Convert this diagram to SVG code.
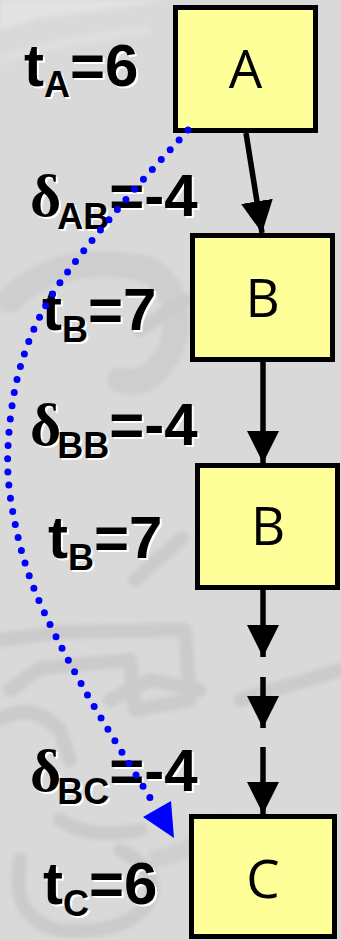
<svg xmlns="http://www.w3.org/2000/svg" xmlns:xlink="http://www.w3.org/1999/xlink" width="341" height="940" viewBox="0 0 341 940">
  <style>
    .box { fill: #ffff99; stroke: #000; stroke-width: 5; }
    .name { font-family: "Open Sans", "DejaVu Sans", sans-serif; font-size: 53px; text-anchor: middle; fill: #000; }
    .lbl { font-family: "Liberation Sans", Arial, sans-serif; font-weight: bold; font-size: 60px; }
    .sub { font-size: 36px; }
    .greek { font-family: "Liberation Serif", "Times New Roman", serif; font-weight: bold; }
    .halo { fill: #fff; }
    .ink { fill: #000; }
    .flow { fill: none; stroke: #000; stroke-width: 5.5; marker-end: url(#head); }
    .trace { fill: none; stroke: #0000ff; stroke-width: 7; stroke-linecap: round; stroke-dasharray: 0 13.3; }
    .mark { fill: none; stroke: #cbcbcb; stroke-width: 14; stroke-linejoin: round; stroke-linecap: round; }
  </style>
  <defs>
    <marker id="head" markerUnits="userSpaceOnUse" viewBox="0 -16 32 32" refX="32" refY="0" markerWidth="32" markerHeight="32" orient="auto">
      <path d="M0,-16 L32,0 L0,16 z" fill="#000"/>
    </marker>
    <filter id="soft" x="-10%" y="-10%" width="120%" height="120%">
      <feGaussianBlur stdDeviation="2"/>
    </filter>
    <!-- label texts, drawn twice: white offset halo, then black -->
    <text id="tA" class="lbl" x="24" y="86">t<tspan class="sub" dy="11">A</tspan><tspan dy="-11">=6</tspan></text>
    <text id="tB1" class="lbl" x="42" y="330">t<tspan class="sub" dy="12">B</tspan><tspan dy="-12">=7</tspan></text>
    <text id="tB2" class="lbl" x="48" y="558">t<tspan class="sub" dy="12">B</tspan><tspan dy="-12">=7</tspan></text>
    <text id="tC" class="lbl" x="43" y="904">t<tspan class="sub" dy="12">C</tspan><tspan dy="-12">=6</tspan></text>
    <text id="dAB" class="lbl" x="30" y="216"><tspan class="greek">δ</tspan><tspan class="sub" dx="-4" dy="13">AB</tspan><tspan dy="-13">=-4</tspan></text>
    <text id="dBB" class="lbl" x="30" y="445"><tspan class="greek">δ</tspan><tspan class="sub" dx="-4" dy="13">BB</tspan><tspan dy="-13">=-4</tspan></text>
    <text id="dBC" class="lbl" x="30" y="791"><tspan class="greek">δ</tspan><tspan class="sub" dx="-4" dy="13">BC</tspan><tspan dy="-13">=-4</tspan></text>
  </defs>

  <!-- backdrop with faint watermark strokes -->
  <rect width="341" height="940" fill="#d9d9d9"/>
  <g filter="url(#soft)">
    <path d="M0,30 L40,18 L120,8 L170,0 L0,0 z" fill="#e2e2e2"/>
    <path d="M0,60 Q60,40 150,30" fill="none" stroke="#dedede" stroke-width="10"/>
    <path d="M10,300 Q60,250 150,270 Q190,300 170,350 Q150,390 120,380" fill="none" stroke="#cecece" stroke-width="26" stroke-linecap="round"/>
    <path d="M140,330 L185,300" class="mark" stroke="#cdcdcd" stroke-width="22"/>
    <path d="M135,580 L182,538" class="mark" stroke="#c8c8c8" stroke-width="18"/>
    <path class="mark" d="M0,640 L60,632 L185,630 L190,700 L135,710 L130,660 L40,668 L10,690"/>
    <path class="mark" d="M240,700 L340,670"/>
    <path class="mark" d="M0,720 Q30,700 60,730 L70,760 M110,700 L150,680 L200,690"/>
    <path class="mark" d="M20,860 Q10,920 60,930 Q130,935 150,900 Q160,870 120,850"/>
    <path class="mark" d="M60,820 Q90,840 140,830"/>
    <path d="M150,860 Q200,850 230,820" fill="none" stroke="#cfcfcf" stroke-width="18"/>
  </g>

  <!-- nodes -->
  <g id="node-A">
    <rect class="box" x="175.5" y="7.5" width="140" height="123"/>
    <text class="name" x="245.5" y="88">A</text>
  </g>
  <g id="node-B1">
    <rect class="box" x="192.5" y="235.5" width="140" height="124"/>
    <text class="name" x="262.5" y="317">B</text>
  </g>
  <g id="node-B2">
    <rect class="box" x="197.5" y="465.5" width="140" height="122"/>
    <text class="name" x="268" y="545">B</text>
  </g>
  <g id="node-C">
    <rect class="box" x="191.5" y="816.5" width="143" height="120"/>
    <text class="name" x="263" y="898">C</text>
  </g>

  <!-- time and delay labels -->
  <g id="labels">
    <use xlink:href="#tA" class="halo" x="2" y="2"/><use xlink:href="#tA" class="ink"/>
    <use xlink:href="#tB1" class="halo" x="2" y="2"/><use xlink:href="#tB1" class="ink"/>
    <use xlink:href="#tB2" class="halo" x="2" y="2"/><use xlink:href="#tB2" class="ink"/>
    <use xlink:href="#tC" class="halo" x="2" y="2"/><use xlink:href="#tC" class="ink"/>
    <use xlink:href="#dAB" class="halo" x="2" y="2"/><use xlink:href="#dAB" class="ink"/>
    <use xlink:href="#dBB" class="halo" x="2" y="2"/><use xlink:href="#dBB" class="ink"/>
    <use xlink:href="#dBC" class="halo" x="2" y="2"/><use xlink:href="#dBC" class="ink"/>
  </g>

  <!-- connectors -->
  <g id="connectors">
    <path class="flow" d="M246,133 L262,233"/>
    <path class="flow" d="M263,362 L263,463"/>
    <path class="flow" d="M263,590 L263,657"/>
    <path class="flow" d="M263,677 L263,728"/>
    <path class="flow" d="M263,747 L263,814"/>
    <path class="trace" d="M188,130 C164.3,156.7 139.7,182.5 117,210 C94.3,237.5 68.2,268.7 52,295 C35.8,321.3 27.3,342.7 20,368 C12.7,393.3 9.2,422.8 8,447 C6.8,471.2 8.5,489 13,513 C17.5,537 23.3,562 35,591 C46.7,620 63.5,652 83,687 C102.5,722 129,763 152,801"/>
    <polygon points="143,817 171,801 174,838" fill="#0000ff"/>
  </g>
</svg>
